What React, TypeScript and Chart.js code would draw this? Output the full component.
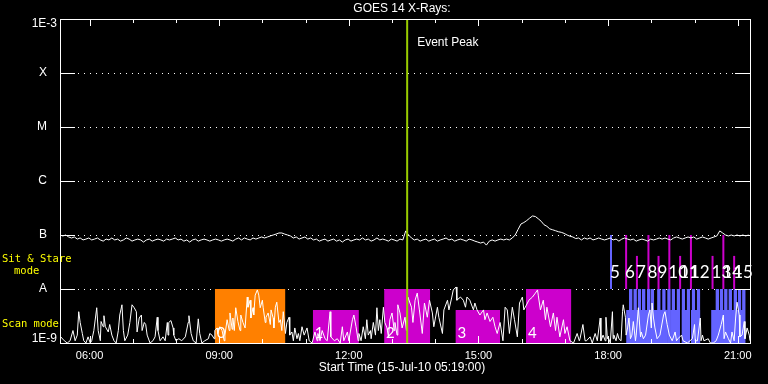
import React, { useEffect, useRef } from "react";
import { Chart, registerables } from "chart.js";

Chart.register(...registerables);

// ---------- data ----------
const START_MIN = 5 * 60 + 19; // 05:19
const X_MAX = 958; // minutes after start
const TITLE = "GOES 14 X-Rays:";
const X_TITLE = "Start Time (15-Jul-10 05:19:00)";
const EVENT_LABEL = "Event Peak";
const EVENT_PEAK = 482; // minutes after start (13:21)

const Y_TICKS = [1e-9, 1e-8, 1e-7, 1e-6, 1e-5, 1e-4, 1e-3];
const Y_TICK_LABELS: any[] = [["1E-9", ""], "A   ", "B   ", "C   ", "M   ", "X   ", ["", "1E-3"]];
const GRID_LEVELS = [1e-8, 1e-7, 1e-6, 1e-5, 1e-4];
const LABEL_TICKS = [41, 221, 401, 581, 761, 941]; // 06:00 .. 21:00
const HOUR_TICKS = [41, 101, 161, 221, 281, 341, 401, 461, 521, 581, 641, 701, 761, 821, 881, 941];

const LEFT_LABEL_SS = ["Sit & Stare", "mode"];
const LEFT_LABEL_SCAN = "Scan mode";

// long channel (1-8 A), 4-minute cadence, units of 1e-7 W/m^2
const LONG_CADENCE = 4;
const longValues = [
  1.0, 0.96, 1.0, 0.92, 0.88, 0.92, 0.84, 0.88, 0.81, 0.84,
  0.88, 0.81, 0.84, 0.88, 0.81, 0.77, 0.84, 0.81, 0.88, 0.81,
  0.84, 0.77, 0.81, 0.88, 0.84, 0.77, 0.81, 0.84, 0.81, 0.74,
  0.81, 0.84, 0.77, 0.81, 0.84, 0.81, 0.77, 0.84, 0.81, 0.84,
  0.88, 0.81, 0.84, 0.77, 0.81, 0.74, 0.81, 0.84, 0.77, 0.81,
  0.84, 0.81, 0.77, 0.81, 0.84, 0.81, 0.77, 0.81, 0.84, 0.81,
  0.77, 0.84, 0.88, 0.81, 0.88, 0.84, 0.81, 0.88, 0.84, 0.88,
  0.92, 0.88, 0.92, 0.96, 1.0, 1.04, 1.09, 1.09, 1.04, 1.0,
  0.96, 0.88, 0.92, 0.84, 0.88, 0.92, 0.84, 0.88, 0.81, 0.84,
  0.77, 0.81, 0.84, 0.77, 0.81, 0.84, 0.77, 0.81, 0.74, 0.81,
  0.84, 0.77, 0.81, 0.84, 0.81, 0.88, 0.81, 0.84, 0.77, 0.81,
  0.88, 0.81, 0.84, 0.81, 0.77, 0.84, 0.81, 0.77, 0.84, 0.81,
  1.19, 1.0, 0.88, 0.81, 0.84, 0.77, 0.81, 0.84, 0.77, 0.81,
  0.84, 0.77, 0.81, 0.84, 0.88, 0.81, 0.84, 0.77, 0.81, 0.84,
  0.81, 0.77, 0.84, 0.81, 0.77, 0.74, 0.71, 0.74, 0.65, 0.77,
  0.81, 0.77, 0.81, 0.84, 0.81, 0.84, 0.81, 0.88, 1.0, 1.27,
  1.6, 1.7, 1.85, 2.05, 2.25, 2.2, 2.0, 1.8, 1.55, 1.45,
  1.3, 1.25, 1.2, 1.15, 1.12, 1.07, 1.0, 0.95, 0.92, 0.86,
  0.88, 0.81, 0.88, 0.84, 0.88, 0.81, 0.84, 0.88, 0.84, 0.81,
  0.84, 0.88, 0.81, 0.84, 0.77, 0.84, 0.88, 0.84, 0.81, 0.84,
  0.77, 0.81, 0.84, 0.81, 0.77, 0.84, 0.81, 0.84, 0.88, 0.84,
  0.88, 0.84, 0.81, 0.88, 0.92, 0.88, 0.84, 0.88, 0.92, 0.88,
  0.92, 0.84, 0.88, 0.92, 0.88, 0.84, 0.88, 0.92, 0.96, 1.19,
  1.09, 1.0, 0.96, 1.0, 0.96, 1.0, 0.96, 1.0, 0.96, 1.0,
];

// short channel (0.5-4 A), minutes after start, units of 1e-9 W/m^2
const shortTimes = [
  1, 6, 10, 14, 18, 21, 24, 26, 28, 31, 33, 36, 39, 42, 44, 47, 51, 53, 56, 57,
  60, 61, 63, 67, 69, 72, 75, 78, 81, 83, 86, 88, 90, 94, 97, 100, 103, 106, 107, 110,
  113, 114, 117, 119, 121, 125, 129, 132, 135, 136, 139, 143, 146, 149, 150, 151, 154, 157, 158, 161,
  165, 169, 174, 178, 179, 182, 185, 189, 192, 194, 197, 201, 206, 208, 211, 214, 215, 218, 219, 222,
  225, 228,
  229, 232, 235, 236, 239, 240, 242, 244, 247, 250, 251, 254, 257, 260, 261, 264, 265, 268, 269, 271,
  274, 276, 278, 281, 282, 285, 286, 289, 292, 293, 296, 297, 299, 301, 304, 306, 308, 310, 313, 315,
  318, 319, 322, 324, 326, 329, 331, 333, 336, 339, 343, 346, 350, 354, 357, 358, 361, 364, 368, 371,
  375, 376, 381, 385, 389, 392, 394, 399, 401, 406, 408, 411, 414, 415, 418, 421, 424, 426, 428, 431,
  432, 435, 438, 440, 442, 444, 446, 449, 451, 454, 456, 458, 461, 464, 465, 468, 469, 472,
  475, 479, 481, 483, 488, 490, 493, 496, 499, 503, 506, 510, 513, 517, 519, 524, 526, 531, 533, 538,
  540, 544, 546, 550, 551, 556, 560, 563, 565, 569, 574, 576, 579, 583, 588, 590, 593, 597, 601, 604,
  607, 611, 615, 618, 621, 624, 628, 631, 635, 638, 642, 644, 649, 651, 656, 660, 663, 664, 667, 671,
  674, 676, 681, 685, 688, 690, 694, 699, 701, 704, 708, 713, 718, 721, 722, 726, 729, 731, 736, 739,
  743, 746,
  750, 751, 754, 757, 758, 760, 761, 764, 767, 768, 769, 772, 774, 776, 779, 781, 782, 785, 786, 788,
  790, 792, 794, 796, 799, 800, 803, 806, 807, 810, 813, 817, 819, 821, 822, 824, 826, 829, 833, 838,
  840, 843, 846, 850, 854, 856, 858, 863, 865, 871, 878, 881, 882, 885, 889, 890, 892, 894, 900, 903,
  907, 911, 914, 918, 921, 922, 924, 928, 931, 933, 936, 938, 940, 943, 944, 947, 950, 951, 954, 957,
  958,
];
const shortValues = [
  1.3, 1.1, 1.0, 1.1, 1.7, 1.1, 1.4, 3.8, 2.4, 1.5, 1.1, 1.0, 1.3, 1.0, 1.1, 1.7, 4.5, 1.7, 1.1, 2.5,
  2.0, 3.2, 2.0, 1.6, 2.2, 1.4, 1.1, 1.0, 1.7, 3.3, 5.1, 1.7, 1.1, 1.4, 2.4, 5.1, 4.5, 3.8, 1.6, 2.9,
  3.3, 1.7, 2.4, 2.2, 1.4, 1.0, 1.1, 1.3, 3.0, 1.7, 1.1, 1.3, 1.1, 2.4, 1.4, 2.4, 2.6, 1.9, 1.4, 1.1,
  1.2, 1.1, 1.3, 2.4, 3.2, 1.5, 1.1, 1.0, 2.8, 1.5, 1.0, 1.1, 1.2, 1.5, 1.4, 1.2, 1.7, 1.9, 1.5, 2.0,
  1.7, 1.1,
  1.4, 2.7, 1.7, 3.6, 1.8, 2.9, 1.7, 4.5, 2.5, 1.7, 3.3, 2.4, 1.9, 7.1, 4.6, 6.2, 2.9, 4.5, 3.3, 7.7,
  9.6, 7.7, 4.5, 6.2, 4.6, 2.4, 3.0, 3.6, 2.2, 4.1, 2.9, 1.9, 4.6, 5.7, 2.4, 2.7, 1.7, 3.8, 1.5, 2.4,
  3.0, 1.4, 1.6, 1.1, 1.9, 1.2, 1.5, 1.1, 2.0, 1.4, 1.9, 1.1, 1.0, 1.6, 1.1, 1.5, 1.1, 1.7, 1.2, 1.1,
  3.8, 1.3, 1.1, 1.2, 1.0, 2.0, 1.1, 1.6, 1.1, 2.7, 3.3, 2.0, 1.1, 1.5, 1.1, 2.0, 1.2, 2.7, 1.4, 1.7,
  1.2, 2.4, 1.4, 4.5, 1.7, 2.7, 1.5, 4.6, 2.4, 1.9, 1.3, 2.7, 3.6, 1.7, 2.4, 1.4, 5.1, 3.6,
  1.9, 3.0, 1.7, 7.1, 4.6, 2.4, 6.2, 8.4, 4.1, 1.5, 5.5, 3.0, 6.2, 3.6, 2.0, 4.6, 3.0, 1.5, 4.1, 6.2,
  4.1, 7.1, 9.6, 10.9, 6.2, 7.1, 6.2, 4.6, 7.1, 6.2, 4.1, 5.5, 4.1, 3.3, 4.1, 2.7, 3.6, 2.5, 3.0, 2.0,
  1.5, 2.4, 1.1, 4.6, 4.1, 1.5, 4.6, 2.7, 1.3, 5.5, 7.1, 4.1, 5.5, 6.2, 7.1, 8.4, 9.6, 7.7, 4.1, 6.2,
  2.7, 4.6, 2.0, 3.6, 1.7, 3.0, 1.3, 2.7, 1.5, 2.0, 1.1, 1.0, 1.5, 1.1, 1.2, 2.2, 1.1, 1.1, 1.3, 1.0,
  1.5, 1.1,
  2.9, 1.1, 1.4, 1.1, 3.0, 1.2, 1.3, 1.0, 3.8, 1.2, 1.4, 1.1, 1.5, 1.2, 1.1, 3.8, 5.1, 3.0, 1.4, 1.9,
  2.9, 1.2, 1.4, 2.5, 1.1, 1.4, 4.5, 1.3, 1.6, 1.2, 1.4, 3.3, 4.1, 1.9, 5.5, 2.9, 1.9, 1.2, 1.4, 3.3,
  3.8, 2.2, 1.4, 1.1, 1.6, 1.1, 1.2, 1.4, 1.1, 1.0, 1.2, 2.2, 1.1, 1.1, 2.9, 1.1, 1.4, 1.1, 1.2, 1.0,
  1.0, 1.1, 1.4, 2.2, 3.3, 1.2, 1.6, 1.2, 1.0, 1.6, 1.1, 2.9, 5.7, 3.3, 1.3, 1.4, 2.5, 1.2, 1.9, 1.4,
  1.1,
];

// scan-mode observations (minutes after start)
const scanStart = [215, 351, 450, 549, 647];
const scanEnd = [313, 415, 514, 611, 710];
const scanLabels = ["0", "1", "2", "3", "4"];
const scanTall = [true, false, true, false, true];

// later scan rasters
const rasterLowStart = [786, 833, 847, 863, 876, 904];
const rasterLowEnd = [831, 844, 860, 874, 889, 950];
const rasterTallStart = [790, 796, 802, 808, 815, 820, 829, 836, 843, 849, 856, 863, 870, 877, 884, 910, 916, 922, 928, 935, 941, 947];
const RASTER_TALL_LEN = 5;

// sit & stare observations
const ssTimes = [765, 786, 801, 817, 831, 846, 861, 876, 906, 921, 936];
const ssLabels = ["5", "6", "7", "8", "9", "10", "11", "12", "13", "14", "15"];
const ssTall = [true, true, false, true, false, true, false, true, false, true, false];

const SCAN_BASE = 1e-9;
const SCAN_TALL_TOP = 1e-8;
const SCAN_SHORT_TOP = 4.1e-9;
const SS_BASE = 1e-8;
const SS_TALL_TOP = 1e-7;
const SS_SHORT_TOP = 4.1e-8;

// ---------- styles ----------
const ORANGE = "#ff8000";
const MAGENTA = "#cc00cc";
const BLUE = "#6464ff";
const GREEN = "#99cc00";
const YELLOW = "#ffff00";
const SANS = '"Liberation Sans", Arial, sans-serif';
const MONO = '"DejaVu Sans Mono", "Liberation Mono", monospace';
const NUMFONT = 'Lato, "Liberation Sans", sans-serif';

const fmtTime = (v: number) => {
  const m = START_MIN + Math.round(v);
  const hh = Math.floor(m / 60) % 24;
  const mm = m % 60;
  return `${String(hh).padStart(2, "0")}:${String(mm).padStart(2, "0")}`;
};

const decor = {
  id: "decor",
  beforeDatasetsDraw(chart: any) {
    const { ctx, chartArea: a, scales } = chart;
    const y = scales.y;
    ctx.save();
    ctx.strokeStyle = "#fff";
    ctx.lineWidth = 1;
    ctx.setLineDash([1, 5]);
    for (const lv of GRID_LEVELS) {
      const py = Math.round(y.getPixelForValue(lv)) + 0.5;
      ctx.beginPath();
      ctx.moveTo(a.left, py);
      ctx.lineTo(a.right, py);
      ctx.stroke();
    }
    ctx.restore();
  },
  afterDraw(chart: any) {
    const { ctx, chartArea: a, scales } = chart;
    const x = scales.x;
    const y = scales.y;
    ctx.save();
    ctx.strokeStyle = "#fff";
    ctx.lineWidth = 1;
    ctx.setLineDash([]);
    // frame
    ctx.strokeRect(a.left + 0.5, a.top + 0.5, a.right - a.left, a.bottom - a.top);
    // y ticks (both sides)
    for (const lv of GRID_LEVELS) {
      const py = Math.round(y.getPixelForValue(lv)) + 0.5;
      ctx.beginPath();
      ctx.moveTo(a.left, py);
      ctx.lineTo(a.left + 15, py);
      ctx.moveTo(a.right - 15, py);
      ctx.lineTo(a.right, py);
      ctx.stroke();
    }
    // x ticks (top and bottom, inside)
    for (const t of HOUR_TICKS) {
      const px = Math.round(x.getPixelForValue(t)) + 0.5;
      const len = LABEL_TICKS.includes(t) ? 7 : 4;
      ctx.beginPath();
      ctx.moveTo(px, a.top);
      ctx.lineTo(px, a.top + len);
      ctx.moveTo(px, a.bottom);
      ctx.lineTo(px, a.bottom - len);
      ctx.stroke();
    }
    // titles
    ctx.fillStyle = "#fff";
    ctx.textAlign = "center";
    ctx.textBaseline = "middle";
    ctx.font = `12px ${SANS}`;
    const cx = (a.left + a.right) / 2 - 3;
    ctx.fillText(TITLE, cx, 9);
    ctx.fillText(X_TITLE, cx, 368);
    ctx.textAlign = "left";
    ctx.fillText(EVENT_LABEL, x.getPixelForValue(EVENT_PEAK) + 10, a.top + 24);
    // left yellow labels
    ctx.fillStyle = YELLOW;
    ctx.font = `10.5px ${MONO}`;
    ctx.fillText(LEFT_LABEL_SS[0], 2, 259);
    ctx.fillText(LEFT_LABEL_SS[1], 14, 271);
    ctx.fillText(LEFT_LABEL_SCAN, 2, 324);
    // observation numbers
    ctx.fillStyle = "#fff";
    ctx.textBaseline = "alphabetic";
    ctx.font = `15px ${NUMFONT}`;
    scanLabels.forEach((lab, i) => {
      ctx.fillText(lab, x.getPixelForValue(scanStart[i]) + 2, y.getPixelForValue(SCAN_BASE) - 5);
    });
    ctx.font = `17px ${NUMFONT}`;
    ssLabels.forEach((lab, i) => {
      ctx.fillText(lab, x.getPixelForValue(ssTimes[i]) - 1, y.getPixelForValue(SS_BASE) - 11);
    });
    ctx.restore();
  },
};

function buildDatasets() {
  const ds: any[] = [];
  const line = (data: any[], color: string, width: number) => ({
    data,
    borderColor: color,
    borderWidth: width,
    pointRadius: 0,
    fill: false,
    tension: 0,
  });
  ds.push(line([{ x: EVENT_PEAK, y: 1e-9 }, { x: EVENT_PEAK, y: 1e-3 }], GREEN, 2));
  ds.push(line(shortTimes.map((t, i) => ({ x: t, y: shortValues[i] * 1e-9 })), "#fff", 1));
  ds.push(line(longValues.map((v, i) => ({ x: i * LONG_CADENCE, y: v * 1e-7 })), "#fff", 1));
  ssTimes.forEach((t, i) => {
    ds.push(line([{ x: t, y: SS_BASE }, { x: t, y: ssTall[i] ? SS_TALL_TOP : SS_SHORT_TOP }], i === 0 ? BLUE : MAGENTA, 2));
  });
  const box = (s: number, e: number, top: number, base: number, color: string) => ({
    data: [{ x: s, y: top }, { x: e, y: top }],
    borderColor: "rgba(0,0,0,0)",
    borderWidth: 0,
    backgroundColor: color,
    pointRadius: 0,
    fill: { value: base },
    tension: 0,
  });
  rasterTallStart.forEach((s) => ds.push(box(s, s + RASTER_TALL_LEN, SCAN_TALL_TOP, SCAN_BASE, BLUE)));
  rasterLowStart.forEach((s, i) => ds.push(box(s, rasterLowEnd[i], SCAN_SHORT_TOP, SCAN_BASE, BLUE)));
  scanStart.forEach((s, i) =>
    ds.push(box(s, scanEnd[i], scanTall[i] ? SCAN_TALL_TOP : SCAN_SHORT_TOP, SCAN_BASE, i === 0 ? ORANGE : MAGENTA))
  );
  return ds;
}

export default function App() {
  const ref = useRef<HTMLCanvasElement | null>(null);
  useEffect(() => {
    if (!ref.current) return;
    const chart = new Chart(ref.current, {
      type: "line",
      data: { datasets: buildDatasets() },
      options: {
        responsive: false,
        animation: false,
        events: [],
        layout: { padding: { left: 0, right: 18, top: 19, bottom: 0 } },
        plugins: { legend: { display: false }, tooltip: { enabled: false }, title: { display: false } },
        scales: {
          x: {
            type: "linear",
            position: "bottom",
            min: 0,
            max: X_MAX,
            afterFit: (s: any) => {
              s.height = 41;
              s.paddingLeft = 0;
              s.paddingRight = 0;
            },
            afterBuildTicks: (s: any) => {
              s.ticks = LABEL_TICKS.map((v) => ({ value: v }));
            },
            grid: { display: false, drawTicks: false },
            border: { display: false },
            ticks: {
              color: "#fff",
              font: { family: SANS, size: 11 },
              padding: 6,
              maxRotation: 0,
              autoSkip: false,
              callback: (v: any) => fmtTime(Number(v)),
            },
          },
          y: {
            type: "logarithmic",
            min: 1e-9,
            max: 1e-3,
            afterFit: (s: any) => {
              s.width = 60;
            },
            afterBuildTicks: (s: any) => {
              s.ticks = Y_TICKS.map((v) => ({ value: v }));
            },
            grid: { display: false, drawTicks: false },
            border: { display: false },
            ticks: {
              color: "#fff",
              font: { family: SANS, size: 12, lineHeight: 0.7 },
              padding: 3,
              autoSkip: false,
              callback: (v: any) => {
                const e = Math.round(Math.log10(Number(v)));
                return Y_TICK_LABELS[e + 9] ?? "";
              },
            },
          },
        },
      },
      plugins: [decor],
    } as any);
    return () => chart.destroy();
  }, []);
  return (
    <div style={{ position: "fixed", left: 0, top: 0, width: 768, height: 384, background: "#000" }}>
      <canvas ref={ref} width={768} height={384} style={{ display: "block", background: "#000" }} />
    </div>
  );
}
